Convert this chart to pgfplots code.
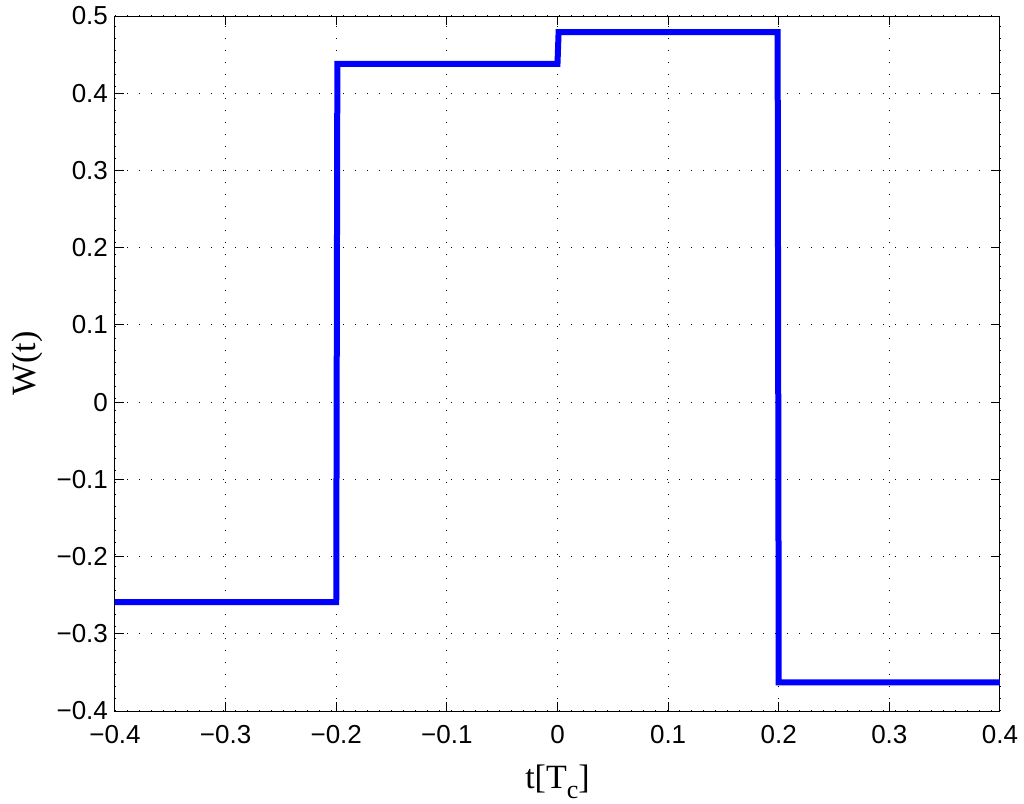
\documentclass[border=0pt]{standalone}
\usepackage{fontspec}
\setmainfont{Liberation Serif}
\newfontfamily\arial{Liberation Sans}
\usepackage{pgfplots}
\pgfplotsset{compat=1.18}

\begin{document}
\begin{tikzpicture}
\useasboundingbox (-57.5pt,-46.5pt) rectangle (454.5pt,355.5pt);
\begin{axis}[
    scale only axis,
    width=442.5pt,
    height=347.5pt,
    at={(0,0)},
    anchor=south west,
    xmin=-0.4, xmax=0.4,
    ymin=-0.4, ymax=0.5,
    xtick={-0.4,-0.3,-0.2,-0.1,0,0.1,0.2,0.3,0.4},
    xticklabels={−0.4,−0.3,−0.2,−0.1,0,0.1,0.2,0.3,0.4},
    ytick={-0.4,-0.3,-0.2,-0.1,0,0.1,0.2,0.3,0.4,0.5},
    yticklabels={−0.4,−0.3,−0.2,−0.1,0,0.1,0.2,0.3,0.4,0.5},
    tick align=inside,
    tick pos=both,
    major tick length=4.5pt,
    tick style={black, line width=0.5pt},
    axis line style={black, line width=0.5pt},
    ticklabel style={font=\arial\fontsize{13}{15}\selectfont},
    xticklabel style={yshift=-3.6pt},
    grid=major,
    grid style={black, line width=0.6pt, dash pattern=on 0.6pt off 5.4pt},
    xlabel={t[T\raisebox{-5pt}{\fontsize{13}{13}\selectfont c}]},
    ylabel={W(t)},
    label style={font=\fontsize{17}{19}\selectfont},
    xlabel style={at={(axis description cs:0.5,0)}, anchor=base, inner sep=0pt, yshift=-38.5pt},
    ylabel style={at={(axis description cs:-0.0994,0.5)}, anchor=center, inner sep=0pt},
]
\addplot[blue, line width=3pt, line join=miter] coordinates {
(-0.4,-0.259)
(-0.2,-0.259)
(-0.199,0.438)
(0,0.438)
(0.001,0.479)
(0.199,0.479)
(0.2,-0.363)
(0.4,-0.363)
};
\end{axis}
\end{tikzpicture}
\end{document}
